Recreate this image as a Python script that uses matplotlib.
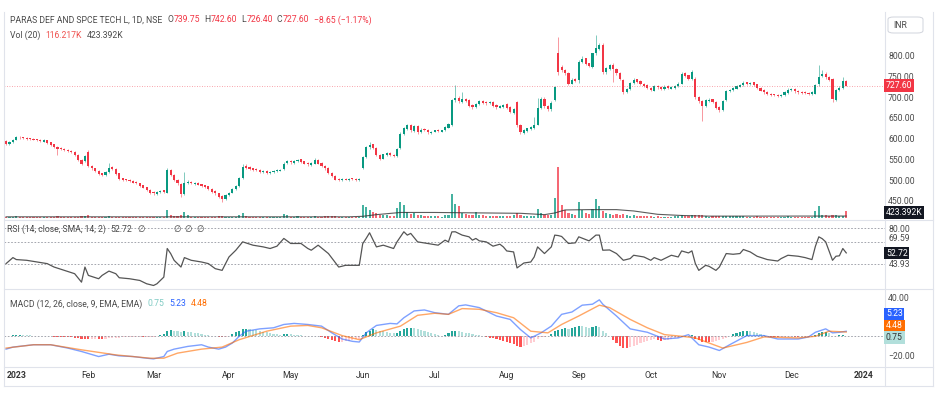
import matplotlib
matplotlib.use('Agg')
import matplotlib.pyplot as plt
from matplotlib.lines import Line2D
from matplotlib.patches import FancyBboxPatch
import numpy as np

W, H = 939, 393
plt.rcParams['font.family'] = ['Roboto', 'DejaVu Sans']

# daily candles (index 0 = first visible bar)
opens = [
    595, 587, 591, 598, 605, 604, 602, 601, 600, 599,
    597, 593, 596, 591, 586, 581, 577, 576, 573, 571,
    569, 561, 549, 545, 569, 534, 529, 523, 516, 513,
    520, 531, 527, 516, 504, 501, 500, 498, 495, 493,
    487, 483, 477, 471, 467, 472, 475, 470, 525, 513,
    501, 490, 466, 493, 496, 491, 494, 490, 487, 485,
    479, 473, 469, 461, 455, 463, 470, 478, 486, 505,
    534, 531, 528, 526, 525, 519, 522, 517, 520, 522,
    523, 526, 541, 546, 542, 546, 550, 545, 541, 537,
    540, 549, 541, 534, 529, 518, 511, 502, 500, 503,
    500, 504, 503, 500, 528, 555, 580, 586, 577, 561,
    552, 561, 566, 561, 558, 578, 612, 624, 633, 619,
    631, 615, 623, 621, 614, 617, 621, 617, 620, 627,
    632, 693, 699, 689, 696, 693, 681, 676, 684, 691,
    688, 685, 689, 681, 675, 677, 683, 676, 663, 688,
    633, 614, 619, 624, 627, 634, 675, 696, 679, 671,
    693, 806, 774, 766, 759, 733, 743, 741, 785, 794,
    782, 774, 806, 817, 826, 761, 769, 779, 769, 759,
    741, 713, 720, 735, 743, 739, 733, 729, 723, 716,
    728, 725, 719, 727, 721, 723, 727, 733, 758, 753,
    745, 745, 701, 691, 680, 692, 695, 689, 676, 669,
    693, 716, 717, 721, 726, 729, 736, 732, 736, 731,
    723, 717, 713, 709, 707, 706, 703, 705, 711, 717,
    721, 715, 713, 712, 711, 707, 709, 731, 751, 757,
    749, 745, 694, 717, 723, 739.75]
highs = [
    597, 594, 600, 607, 607, 605, 603, 602, 601, 600,
    599, 600, 597, 592, 588, 583, 579, 577, 575, 572,
    570, 562, 550, 561, 572, 536, 530, 524, 518, 522,
    541, 533, 529, 518, 506, 503, 502, 499, 497, 494,
    489, 484, 478, 473, 474, 477, 476, 528, 527, 514,
    503, 492, 520, 500, 498, 496, 495, 491, 489, 486,
    481, 475, 470, 463, 466, 472, 480, 489, 508, 538,
    538, 533, 530, 528, 526, 524, 524, 522, 524, 526,
    527, 543, 548, 548, 548, 552, 552, 547, 543, 543,
    553, 550, 543, 536, 531, 520, 512, 504, 504, 505,
    505, 506, 504, 504, 558, 583, 592, 588, 579, 563,
    564, 568, 568, 563, 578, 615, 628, 636, 635, 633,
    633, 625, 625, 623, 619, 622, 623, 622, 630, 638,
    696, 729, 702, 712, 698, 695, 683, 686, 693, 693,
    690, 691, 691, 683, 681, 684, 685, 678, 675, 690,
    636, 623, 627, 631, 652, 698, 700, 700, 682, 690,
    728, 846, 778, 768, 761, 746, 747, 789, 800, 796,
    784, 808, 850, 832, 830, 773, 781, 782, 771, 761,
    744, 723, 738, 746, 745, 741, 735, 731, 725, 729,
    730, 727, 729, 729, 727, 730, 736, 760, 762, 755,
    766, 748, 704, 694, 696, 698, 697, 691, 678, 693,
    717, 721, 725, 729, 733, 739, 738, 738, 738, 733,
    725, 719, 714, 711, 709, 708, 708, 714, 722, 723,
    723, 717, 715, 714, 713, 714, 733, 777, 765, 760,
    752, 747, 721, 728, 750, 742.6]
lows = [
    585, 585, 589, 596, 600, 599, 598, 597, 596, 594,
    592, 591, 588, 583, 578, 560, 572, 571, 569, 566,
    558, 546, 537, 543, 531, 525, 520, 513, 510, 511,
    518, 525, 513, 501, 497, 498, 495, 492, 490, 484,
    480, 474, 466, 464, 465, 470, 469, 468, 510, 497,
    489, 458, 464, 490, 490, 489, 487, 484, 482, 476,
    470, 465, 457, 448, 452, 461, 468, 476, 484, 503,
    527, 525, 523, 521, 517, 517, 515, 515, 518, 520,
    521, 524, 539, 540, 540, 544, 542, 538, 535, 535,
    538, 538, 531, 525, 515, 507, 499, 497, 498, 499,
    498, 500, 497, 498, 526, 553, 576, 575, 557, 548,
    550, 559, 558, 555, 556, 576, 608, 620, 617, 617,
    612, 613, 618, 612, 612, 615, 616, 615, 618, 625,
    630, 689, 687, 686, 689, 677, 672, 674, 682, 684,
    682, 683, 677, 672, 673, 675, 672, 661, 660, 628,
    612, 611, 616, 621, 624, 632, 672, 675, 668, 668,
    690, 755, 762, 755, 730, 731, 736, 735, 782, 778,
    772, 771, 803, 814, 756, 756, 765, 737, 755, 742,
    709, 710, 718, 732, 735, 730, 725, 719, 714, 714,
    721, 717, 717, 719, 719, 721, 725, 731, 749, 742,
    742, 697, 685, 642, 677, 689, 685, 672, 665, 666,
    690, 713, 714, 719, 724, 727, 730, 729, 727, 719,
    714, 709, 706, 703, 702, 701, 701, 703, 709, 715,
    711, 709, 708, 707, 705, 705, 707, 728, 748, 745,
    739, 688, 690, 714, 720, 726.4]
closes = [
    588, 592, 598, 604, 603, 601, 600, 599, 598, 596,
    594, 597, 590, 585, 580, 576, 575, 573, 571, 568,
    560, 548, 540, 558, 533, 528, 522, 515, 513, 520,
    530, 527, 515, 503, 500, 500, 497, 494, 492, 486,
    482, 476, 470, 468, 472, 474, 472, 524, 512, 500,
    492, 466, 494, 495, 492, 493, 489, 486, 484, 478,
    472, 468, 460, 455, 463, 470, 478, 486, 505, 532,
    530, 527, 525, 524, 520, 521, 518, 520, 522, 523,
    525, 540, 545, 543, 546, 549, 544, 540, 538, 541,
    548, 540, 533, 528, 517, 510, 501, 500, 502, 501,
    503, 502, 500, 502, 555, 580, 585, 578, 560, 552,
    562, 565, 560, 558, 575, 612, 625, 632, 620, 630,
    615, 622, 620, 615, 617, 620, 618, 620, 628, 635,
    693, 698, 690, 695, 692, 680, 676, 684, 690, 687,
    685, 688, 680, 676, 678, 682, 675, 664, 672, 632,
    615, 620, 625, 628, 634, 675, 695, 678, 672, 685,
    725, 760, 765, 758, 733, 742, 740, 785, 793, 781,
    775, 806, 818, 826, 760, 770, 778, 768, 758, 745,
    713, 720, 735, 742, 738, 732, 728, 722, 717, 727,
    724, 720, 726, 722, 724, 727, 733, 757, 752, 745,
    762, 700, 690, 680, 693, 694, 688, 675, 670, 690,
    715, 718, 722, 727, 730, 735, 733, 735, 730, 722,
    716, 712, 708, 706, 705, 704, 706, 712, 718, 720,
    714, 712, 711, 710, 708, 712, 730, 750, 756, 748,
    742, 695, 718, 722, 740, 727.6]
# volume in thousands
volume = [
    80, 60, 70, 90, 60, 50, 40, 45, 50, 40,
    55, 60, 50, 45, 60, 90, 50, 45, 40, 50,
    70, 80, 90, 110, 150, 70, 60, 55, 50, 70,
    110, 60, 70, 60, 50, 40, 45, 50, 60, 70,
    60, 70, 80, 60, 70, 60, 50, 480, 200, 120,
    110, 200, 360, 150, 80, 70, 60, 60, 50, 60,
    70, 80, 90, 100, 70, 60, 70, 80, 150, 300,
    120, 70, 60, 50, 60, 50, 50, 45, 50, 60,
    70, 240, 150, 80, 70, 90, 60, 50, 60, 70,
    130, 80, 70, 90, 100, 110, 90, 60, 50, 40,
    50, 40, 45, 50, 780, 660, 480, 360, 300, 200,
    150, 180, 120, 100, 600, 960, 780, 360, 240, 300,
    180, 150, 120, 100, 90, 110, 100, 80, 150, 200,
    1440, 840, 720, 300, 240, 200, 180, 360, 200, 150,
    140, 120, 110, 130, 100, 120, 90, 130, 150, 280,
    200, 140, 120, 110, 130, 540, 300, 200, 150, 160,
    1200, 3060, 780, 480, 300, 250, 200, 960, 480, 300,
    240, 540, 1140, 720, 420, 300, 260, 200, 240, 180,
    260, 150, 140, 160, 120, 100, 110, 90, 100, 80,
    90, 80, 70, 80, 70, 100, 120, 180, 130, 110,
    150, 200, 150, 180, 100, 80, 90, 100, 90, 110,
    130, 100, 90, 110, 100, 90, 80, 70, 80, 90,
    80, 70, 70, 60, 60, 70, 60, 80, 90, 80,
    70, 60, 60, 70, 60, 80, 420, 720, 200, 150,
    130, 200, 150, 120, 110, 423.392]
vol_ma_x = [0, 100, 104, 108, 115, 125, 140, 150, 157, 160, 163, 170, 178, 183, 190, 197, 205, 245]
vol_ma_y = [70, 70, 100, 200, 330, 330, 300, 280, 200, 300, 480, 500, 500, 420, 220, 150, 110, 116.217]

rsi_x = [0, 2, 3, 6, 9, 12, 14, 17, 20, 22, 23, 24, 27, 28, 30, 32, 33, 36, 39, 41, 43, 44, 46,
         47, 48, 49, 51, 52, 54, 57, 59, 61, 63, 64, 65, 67, 69, 72, 75, 77, 79, 81, 83, 86, 88,
         89, 91, 94, 97, 99, 103, 104, 105, 106, 108, 110, 113, 114, 116, 117, 118, 120, 123, 126,
         128, 129, 130, 131, 132, 133, 135, 136, 137, 138, 140, 142, 144, 145, 146, 148, 149, 151,
         153, 154, 155, 157, 158, 159, 160, 161, 162, 164, 166, 167, 170, 172, 173, 174, 176, 178,
         180, 182, 183, 186, 188, 189, 191, 194, 196, 197, 199, 200, 201, 202, 204, 205, 207, 208,
         210, 212, 214, 215, 217, 219, 222, 225, 226, 228, 231, 233, 235, 236, 237, 238, 239, 241,
         242, 243, 244, 245]
rsi_y = [40.8, 47.5, 45.3, 44.5, 42.6, 40.8, 37.0, 33.3, 29.6, 20.2, 37.0, 27.7, 24.0, 27.7, 32.5,
         29.6, 25.1, 24.0, 22.1, 18.4, 16.5, 18.4, 25.8, 57.6, 52.0, 44.5, 37.0, 47.5, 44.5, 42.6,
         40.8, 35.2, 33.3, 40.8, 48.2, 55.7, 65.0, 61.3, 59.4, 57.6, 60.2, 68.8, 63.2, 63.2, 57.6,
         55.7, 61.3, 52.0, 37.0, 38.9, 38.9, 63.0, 68.8, 75.1, 59.4, 61.3, 57.6, 65.0, 76.2, 72.5,
         74.4, 65.0, 63.2, 61.3, 66.9, 65.0, 76.1, 76.2, 74.4, 72.5, 70.6, 66.9, 68.8, 66.1, 65.0,
         60.2, 62.4, 59.4, 54.9, 53.8, 36.0, 41.5, 42.6, 48.2, 59.4, 52.0, 55.7, 59.4, 72.5, 72.0,
         71.0, 63.2, 63.9, 70.6, 66.1, 72.5, 72.5, 55.7, 56.0, 52.0, 44.5, 46.4, 50.1, 48.2, 44.5,
         47.5, 44.5, 50.1, 48.2, 54.9, 52.7, 55.0, 40.8, 33.3, 38.9, 37.8, 33.3, 37.0, 52.0, 51.2,
         52.0, 56.5, 53.8, 49.0, 45.3, 43.7, 46.4, 50.1, 49.0, 47.5, 45.3, 60.0, 70.6, 68.5, 65.0,
         44.5, 49.0, 49.5, 57.6, 52.72]
rsi_bands = [80, 65, 40]

macd_x = [0, 2, 8, 13, 18, 22, 27, 30, 33, 37, 41, 43, 46, 47, 49, 53, 57, 59, 62, 64, 66, 68, 70,
          74, 78, 81, 84, 88, 92, 95, 98, 101, 103, 105, 108, 112, 114, 116, 119, 122, 125, 129,
          132, 134, 138, 143, 147, 150, 153, 156, 159, 162, 165, 168, 171, 173, 174, 178, 182, 187,
          192, 196, 199, 202, 205, 208, 211, 216, 221, 225, 231, 234, 236, 239, 241, 243, 245]
macd_y = [-13.1, -11.0, -8.6, -8.6, -12.0, -15.5, -20.7, -18.3, -20.0, -20.7, -22.4, -23.1, -20.7,
          -15.5, -13.1, -10.3, -8.6, -11.0, -13.1, -11.0, -6.8, 0.1, 5.3, 7.7, 8.8, 12.2, 13.3,
          12.2, 10.5, 3.6, -2.7, -5.1, -5.8, 3.6, 11.2, 13.3, 12.8, 19.1, 26.1, 27.1, 24.3, 22.6,
          31.3, 32.3, 29.5, 20.9, 17.4, 7.0, -1.6, 3.6, 10.5, 22.6, 25.0, 32.0, 33.0, 37.5, 33.0,
          20.9, 7.7, 4.2, -2.7, -1.6, 1.8, -8.6, -11.0, -14.5, -8.6, 0.8, 0.8, -2.7, -2.7, -0.6,
          4.2, 7.7, 3.6, 4.2, 5.23]
signal_x = [0, 8, 13, 22, 32, 42, 46, 50, 57, 63, 68, 76, 83, 88, 92, 98, 103, 108, 115, 120, 125,
            129, 133, 138, 143, 148, 153, 158, 162, 167, 173, 176, 182, 187, 192, 197, 201, 209,
            216, 221, 231, 236, 240, 245]
signal_y = [-12.0, -8.6, -8.6, -13.8, -19.0, -22.4, -22.4, -17.2, -13.1, -11.0, -3.4, 5.3, 10.5,
            11.2, 8.8, 0.8, -3.4, 3.6, 10.5, 21.6, 23.7, 22.6, 28.5, 27.8, 24.3, 19.1, 5.3, 3.6,
            12.2, 20.9, 32.0, 29.5, 17.4, 8.8, 1.8, 0.1, -1.6, -12.0, -6.2, -0.6, -1.6, 0.1, 5.3,
            4.48]
hist = [
    0.3, 0.8, 1.2, 1.4, 1.5, 1.3, 1.1, 0.9, 0.6, 0.4,
    0.3, 0.2, 0.1, 0.0, -0.2, -0.3, -0.5, -0.6, -0.8, -1.0,
    -1.5, -2.0, -2.5, -2.8, -3.0, -2.6, -2.2, -2.8, -3.0, -2.4,
    -1.8, -1.6, -1.5, -1.2, -1.0, -0.8, -0.6, -0.5, -0.3, -0.2,
    -0.5, -0.4, -0.3, -0.2, 0.3, 1.0, 2.0, 5.5, 6.6, 6.0,
    5.5, 4.8, 5.2, 4.5, 4.0, 3.5, 3.0, 2.5, 1.8, 1.2,
    0.6, 0.2, -0.5, -0.8, -0.3, 0.5, 2.5, 4.5, 6.0, 7.5,
    8.0, 7.6, 7.0, 6.3, 5.6, 4.8, 4.0, 3.4, 2.8, 2.2,
    1.8, 2.0, 2.4, 2.0, 1.6, 1.3, 1.0, 0.8, 0.5, 0.3,
    0.6, 0.2, -0.8, -1.8, -3.0, -4.2, -5.0, -5.9, -5.5, -5.0,
    -4.4, -3.8, -3.2, -2.5, 1.0, 4.0, 6.0, 7.3, 6.8, 6.0,
    5.2, 4.4, 3.6, 3.0, 3.6, 6.0, 7.5, 8.5, 9.0, 8.5,
    7.5, 6.4, 5.2, 4.0, 3.0, 2.0, 1.2, 0.6, 1.5, 3.0,
    5.0, 5.5, 5.0, 4.5, 3.8, 3.0, 2.2, 1.6, 1.0, 0.4,
    -0.5, -1.2, -2.0, -3.0, -3.8, -4.5, -5.5, -6.5, -7.5, -10.0,
    -10.5, -9.5, -8.5, -7.0, -5.8, -3.0, -1.0, -0.5, 0.5, 2.5,
    5.0, 6.5, 8.0, 8.5, 8.0, 8.8, 9.5, 10.5, 10.2, 9.5,
    9.0, 9.8, 10.5, 10.0, 6.0, 3.0, 0.0, -3.5, -6.5, -9.5,
    -11.5, -12.0, -11.0, -10.0, -8.5, -7.0, -5.5, -4.5, -3.5, -2.5,
    -4.0, -5.0, -4.2, -3.5, -2.5, -2.0, -1.5, -0.5, 0.5, 0.8,
    1.0, -2.5, -4.0, -5.5, -5.8, -6.0, -5.5, -5.0, -4.0, -3.0,
    -1.5, 0.5, 2.0, 3.5, 4.5, 5.0, 5.5, 5.0, 4.0, 3.0,
    2.0, 1.2, 0.5, -0.3, -0.8, -1.0, -0.8, -0.6, -0.4, -0.2,
    -0.5, -0.6, -0.5, -0.4, -0.2, 0.2, 1.5, 3.0, 4.0, 4.5,
    3.5, 0.5, 0.8, 1.0, 1.2, 0.75]

month_pos = [3, 24, 43, 65, 83, 104, 125, 146, 167, 188, 208, 229, 250]
month_lab = ['2023', 'Feb', 'Mar', 'Apr', 'May', 'Jun', 'Jul', 'Aug', 'Sep', 'Oct', 'Nov', 'Dec', '2024']
price_ticks = [450, 500, 550, 600, 650, 700, 750, 800]

GREEN = '#089981'
RED = '#F23645'
TXT = '#4a4a4a'
GRID = '#E0E3EB'
FS = 6.2

fig = plt.figure(figsize=(W / 100, H / 100), dpi=100)


def rect(l, t, r, b):
    return [l / W, 1 - b / H, (r - l) / W, (b - t) / H]


def fx(px):
    return px / W


def fy(py):
    return 1 - py / H


ax_vol = fig.add_axes(rect(4, 12, 885, 219))
ax = fig.add_axes(rect(4, 12, 885, 219), sharex=ax_vol)
ax_rsi = fig.add_axes(rect(4, 220, 885, 288), sharex=ax_vol)
ax_macd = fig.add_axes(rect(4, 289, 885, 366), sharex=ax_vol)
ax.patch.set_visible(False)

o = np.array(opens)
h = np.array(highs)
l = np.array(lows)
c = np.array(closes)
x = np.arange(len(c))
up = c >= o
col = np.where(up, GREEN, RED)

# volume
ax_vol.bar(x, volume, width=0.62, color=col, alpha=0.75, lw=0)
ax_vol.plot(vol_ma_x, vol_ma_y, color='#333333', lw=0.8, alpha=0.8)
ax_vol.set_ylim(-60, 12300)

# candles
ax.vlines(x, l, h, colors=col, lw=0.6, alpha=0.6)
body = np.maximum(np.abs(c - o), 2.0)
ax.bar(x, body, bottom=np.minimum(o, c), width=0.62, color=col, lw=0)
ax.axhline(closes[-1], color=RED, lw=0.6, ls=(0, (1, 2)), alpha=0.6)
ax.set_ylim(406, 906)
ax.set_yticks(price_ticks)
ax.set_yticklabels(['%.2f' % v for v in price_ticks])

# RSI
for b in rsi_bands:
    ax_rsi.axhline(b, color='#9598A1', lw=0.6, ls=(0, (2, 2)))
ax_rsi.plot(rsi_x, rsi_y, color='#555555', lw=0.9)
ax_rsi.set_ylim(13.7, 89.3)
ax_rsi.set_yticks([80, 69.59])
ax_rsi.set_yticklabels(['80.00', '69.59'])

# MACD
hcol = []
for i, v in enumerate(hist):
    prev = hist[i - 1] if i else v
    if v >= 0:
        hcol.append('#26A69A' if v >= prev else '#B2DFDB')
    else:
        hcol.append('#FF5252' if v < prev else '#FFCDD2')
ax_macd.bar(x, hist, width=0.62, color=hcol, lw=0)
ax_macd.axhline(0, color='#9598A1', lw=0.6, ls=(0, (2, 2)))
ax_macd.plot(macd_x, macd_y, color='#2962FF', lw=1.0, alpha=0.6)
ax_macd.plot(signal_x, signal_y, color='#FF6D00', lw=1.0, alpha=0.6)
ax_macd.set_ylim(-30.4, 48.6)
ax_macd.set_yticks([40, -20])
ax_macd.set_yticklabels(['40.00', '\u221220.00'])

for a in (ax_vol, ax, ax_rsi, ax_macd):
    for s in a.spines.values():
        s.set_visible(False)
    a.set_xlim(-0.6, 256.3)
    a.tick_params(axis='x', length=0, labelbottom=False)
    a.yaxis.tick_right()
    a.tick_params(axis='y', length=0, pad=2.2, labelsize=FS, labelcolor=TXT)
ax_vol.set_yticks([])
ax_macd.set_xticks(month_pos)
ax_macd.set_xticklabels(month_lab)
ax_macd.tick_params(axis='x', labelbottom=True, pad=3.5, labelsize=FS, labelcolor='#333333')
for t in ax_macd.get_xticklabels():
    if t.get_text() in ('2023', '2024'):
        t.set_fontweight('bold')

# frame lines
lines = [((4, 933), (219.5, 219.5)), ((4, 933), (288.5, 288.5)), ((4, 933), (366.5, 366.5)),
         ((4, 933), (386, 386)), ((885, 885), (12, 386)), ((933, 933), (12, 386)),
         ((4, 4), (12, 386))]
for xs, ys in lines:
    fig.add_artist(Line2D([fx(xs[0]), fx(xs[1])], [fy(ys[0]), fy(ys[1])],
                          transform=fig.transFigure, color=GRID, lw=0.8))

# INR box
fig.add_artist(FancyBboxPatch((fx(888), fy(33)), fx(923) - fx(888), fy(17) - fy(33),
                              boxstyle='round,pad=0,rounding_size=0.006', transform=fig.transFigure,
                              fc='white', ec='#D1D4DC', lw=0.7, zorder=5))
fig.text(fx(893), fy(25), 'INR', fontsize=FS, color=TXT, va='center', zorder=6)


def tag(py, s, fc, tc='white', px=886):
    fig.text(fx(px), fy(py), s, fontsize=FS, color=tc, va='center', ha='left',
             bbox=dict(boxstyle='square,pad=0.2', fc=fc, ec='none'), zorder=7)


tag(85.5, '727.60', RED)
tag(212.5, '423.392K', '#131722')
tag(253, '52.72', '#131722')
fig.text(fx(889), fy(264.3), '43.93', fontsize=FS, color=TXT, va='center')
tag(314, '5.23', '#2962FF')
tag(326, '4.48', '#FF6D00')
tag(337.5, '0.75', '#B2DFDB', tc='#333333')

renderer = fig.canvas.get_renderer()


def legend(py, px, parts):
    # parts laid out left to right: (text, colour, gap after)
    for s, cc, gap in parts:
        t = fig.text(fx(px), fy(py), s, fontsize=FS, color=cc, va='center', ha='left')
        px = t.get_window_extent(renderer).x1 + gap


legend(20, 10, [('PARAS DEF AND SPCE TECH L, 1D, NSE', TXT, 5), ('O', TXT, 0.5), ('739.75', RED, 4),
                ('H', TXT, 0.5), ('742.60', RED, 4), ('L', TXT, 0.5), ('726.40', RED, 4),
                ('C', TXT, 0.5), ('727.60', RED, 4), ('\u22128.65 (\u22121.17%)', RED, 0)])
legend(35, 10, [('Vol (20)', TXT, 5), ('116.217K', '#EF5350', 5), ('423.392K', TXT, 0)])
legend(229, 7, [('RSI (14, close, SMA, 14, 2)', TXT, 4), ('52.72', TXT, 6), ('\u2205', TXT, 28),
                ('\u2205', TXT, 4), ('\u2205', TXT, 4), ('\u2205', TXT, 0)])
legend(304, 10, [('MACD (12, 26, close, 9, EMA, EMA)', TXT, 5), ('0.75', '#80CBC4', 5),
                 ('5.23', '#2962FF', 5), ('4.48', '#FF6D00', 0)])

fig.savefig('out.png', dpi=100, facecolor='white')
